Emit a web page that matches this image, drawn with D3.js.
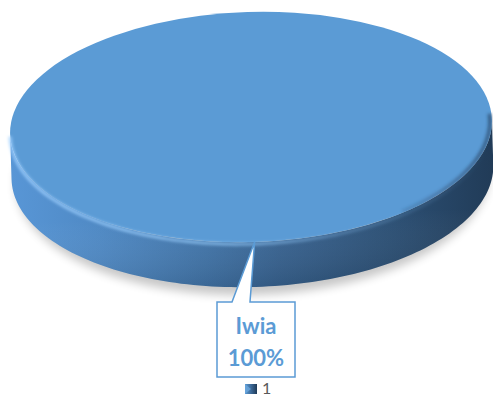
<!DOCTYPE html>
<html><head><meta charset="utf-8">
<script src="https://cdn.jsdelivr.net/npm/d3@7"></script>
<style>body{margin:0;background:#fff}svg{display:block}</style>
</head><body>
<svg id="chart" width="493" height="399"></svg>
<script>
// Series data
const categories = ["1"];
const seriesValues = [100];
const sliceNames = ["Iwia"];
const labelTexts = ["100%"];

const svg = d3.select("#chart");

// Disc geometry
const cx = 251, cy = 127, rx = 241, ry = 115, depth = 45, tilt = -1.8;
const k = ry / rx;

const pie = d3.pie().sort(null).value(d => d)(seriesValues);
const arc = d3.arc().innerRadius(0).outerRadius(rx);

const defs = svg.append("defs");

// Gradients and filters
const sideGrad = defs.append("linearGradient").attr("id", "sideGrad")
  .attr("gradientUnits", "userSpaceOnUse")
  .attr("x1", cx - rx).attr("x2", cx + rx).attr("y1", 0).attr("y2", 0);
[[0, "#5896d6"], [0.18, "#4f89c4"], [0.4, "#4174a8"], [0.55, "#386391"], [0.78, "#2c5075"], [1, "#213b57"]]
  .forEach(([o, c]) => sideGrad.append("stop").attr("offset", o).attr("stop-color", c));

const sideShade = defs.append("linearGradient").attr("id", "sideShade")
  .attr("x1", 0).attr("x2", 0).attr("y1", 0).attr("y2", 1);
[[0, "#ffffff", 0.0], [0.55, "#ffffff", 0.0], [1, "#000000", 0.12]]
  .forEach(([o, c, a]) => sideShade.append("stop").attr("offset", o).attr("stop-color", c).attr("stop-opacity", a));

const rimGrad = defs.append("linearGradient").attr("id", "rimGrad")
  .attr("gradientUnits", "userSpaceOnUse")
  .attr("x1", cx - rx).attr("x2", cx + rx).attr("y1", 0).attr("y2", 0);
[[0, "#9fd0ff", 0.9], [0.45, "#8cc2f2", 0.8], [0.7, "#7fb3e3", 0.35], [1, "#7fb3e3", 0]]
  .forEach(([o, c, a]) => rimGrad.append("stop").attr("offset", o).attr("stop-color", c).attr("stop-opacity", a));

const edgeDark = defs.append("linearGradient").attr("id", "edgeDark")
  .attr("gradientUnits", "userSpaceOnUse")
  .attr("x1", cx).attr("x2", cx + rx).attr("y1", 0).attr("y2", 0);
[[0, "#2a4d73", 0], [0.6, "#2a4d73", 0.2], [1, "#1f3a57", 0.6]]
  .forEach(([o, c, a]) => edgeDark.append("stop").attr("offset", o).attr("stop-color", c).attr("stop-opacity", a));

defs.append("filter").attr("id", "blurShadow").attr("x", "-20%").attr("y", "-20%").attr("width", "140%").attr("height", "140%")
  .append("feGaussianBlur").attr("stdDeviation", 5);
defs.append("filter").attr("id", "blurSoft").attr("x", "-10%").attr("y", "-10%").attr("width", "120%").attr("height", "120%")
  .append("feGaussianBlur").attr("stdDeviation", 1.6);

const legGrad = defs.append("linearGradient").attr("id", "legGrad")
  .attr("x1", 0).attr("x2", 1).attr("y1", 0).attr("y2", 0);
[[0, "#5b9bd5"], [0.5, "#3d6a99"], [1, "#1f3a57"]]
  .forEach(([o, c]) => legGrad.append("stop").attr("offset", o).attr("stop-color", c));

const disc = svg.append("g").attr("transform", `rotate(${tilt},${cx},${cy})`);

// Soft shadow under the disc
disc.append("ellipse")
  .attr("cx", cx).attr("cy", cy + depth + 6)
  .attr("rx", rx - 4).attr("ry", ry + 2)
  .attr("fill", "#000").attr("opacity", 0.22)
  .attr("filter", "url(#blurShadow)");

// Point on the rim for a d3.arc angle (0 = 12 o'clock, clockwise)
function pt(a, dy, shrink = 0) {
  return [cx + (rx - shrink) * Math.sin(a), cy - (ry - shrink * k) * Math.cos(a) + dy];
}

// Side wall: front half of each slice, extruded downward
pie.forEach(s => {
  const a0 = Math.max(s.startAngle, Math.PI / 2);
  const a1 = Math.min(s.endAngle, 3 * Math.PI / 2);
  if (a1 <= a0) return;
  const n = 120;
  const angles = d3.range(n + 1).map(i => a0 + (a1 - a0) * i / n);
  const top = angles.map(a => pt(a, 0));
  const bot = angles.slice().reverse().map(a => pt(a, depth));
  const d = d3.line()(top.concat(bot)) + "Z";
  disc.append("path").attr("d", d).attr("fill", "url(#sideGrad)");
  disc.append("path").attr("d", d).attr("fill", "url(#sideShade)");
});

// Top face
const topG = disc.append("g").attr("transform", `translate(${cx},${cy}) scale(1,${k})`);
topG.selectAll("path.slice").data(pie).join("path")
  .attr("class", "slice")
  .attr("d", arc)
  .attr("fill", "#5b9bd5");

// Soft darkening where the top face meets the shaded right wall
disc.append("path")
  .attr("d", d3.line()(d3.range(0, 81).map(i => pt(Math.PI / 2 - 0.05 + 0.95 * i / 80, 0, 2))))
  .attr("fill", "none").attr("stroke", "url(#edgeDark)").attr("stroke-width", 4)
  .attr("filter", "url(#blurSoft)");

// Bevel highlight along the front rim
disc.append("path")
  .attr("d", d3.line()(d3.range(0, 121).map(i => pt(Math.PI / 2 + Math.PI * i / 120, 2))))
  .attr("fill", "none").attr("stroke", "url(#rimGrad)").attr("stroke-width", 3)
  .attr("filter", "url(#blurSoft)");

// Data callout pointing at the slice's mid-angle on the rim
const mid = (pie[0].startAngle + pie[0].endAngle) / 2;
const tipRaw = pt(mid, 0);
const rad = tilt * Math.PI / 180;
const tip = [cx + (tipRaw[0] - cx) * Math.cos(rad) - (tipRaw[1] - cy) * Math.sin(rad),
             cy + (tipRaw[0] - cx) * Math.sin(rad) + (tipRaw[1] - cy) * Math.cos(rad)];
const bx0 = 217, bx1 = 295, by0 = 302, by1 = 377;
const callout = d3.path();
callout.moveTo(bx0, by0);
callout.lineTo(232, by0);
callout.lineTo(tip[0], tip[1]);
callout.lineTo(250, by0);
callout.lineTo(bx1, by0);
callout.lineTo(bx1, by1);
callout.lineTo(bx0, by1);
callout.closePath();
svg.append("path").attr("d", callout.toString())
  .attr("fill", "#fff").attr("stroke", "#5b9bd5").attr("stroke-width", 1.5);

const lab = svg.append("text")
  .attr("text-anchor", "middle")
  .attr("font-family", "Lato, 'Open Sans', sans-serif")
  .attr("font-weight", 700).attr("font-size", 22)
  .attr("fill", "#5b9bd5");
lab.append("tspan").attr("x", 256).attr("y", 334).text(sliceNames[0]);
lab.append("tspan").attr("x", 256).attr("y", 366).text(labelTexts[0]);

// Legend
const leg = svg.append("g").selectAll("g").data(categories).join("g")
  .attr("transform", (d, i) => `translate(${245 + i * 40},384)`);
leg.append("rect").attr("width", 12).attr("height", 10).attr("fill", "url(#legGrad)");
leg.append("path").attr("d", "M0,0 L6,5 L0,10 Z").attr("fill", "#6aa6dc").attr("opacity", 0.8);
leg.append("text").attr("x", 17).attr("y", 10)
  .attr("font-family", "Lato, 'Open Sans', sans-serif")
  .attr("font-size", 16).attr("fill", "#595959")
  .text(d => d);
</script>
</body></html>
